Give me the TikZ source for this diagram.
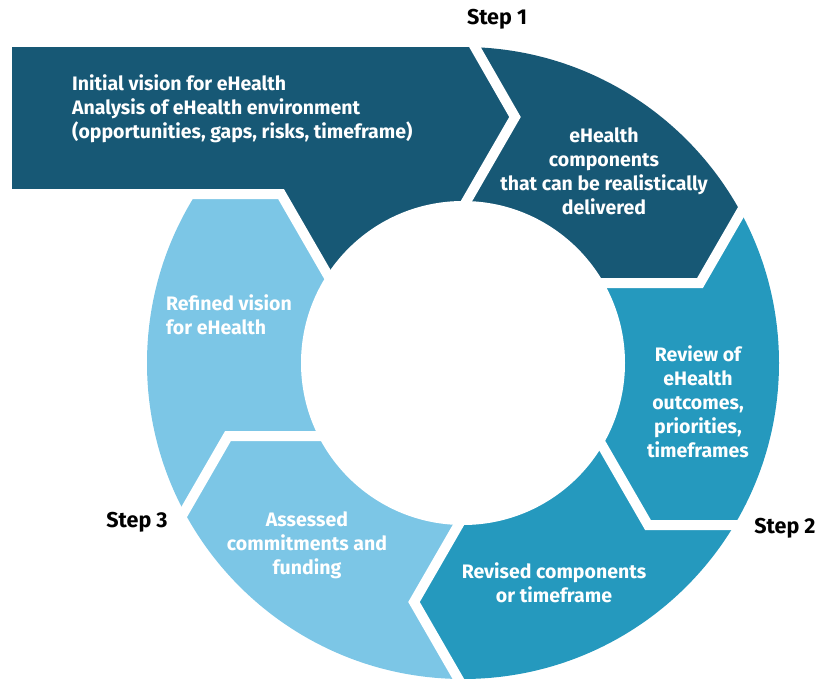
\documentclass[tikz,border=0pt]{standalone}
\usepackage{fontspec}
\setmainfont{Fira Sans}
\definecolor{dk}{HTML}{175875}
\definecolor{md}{HTML}{2599BE}
\definecolor{lt}{HTML}{7CC6E6}
\begin{document}
\begin{tikzpicture}[x=1pt,y=-1pt,
  gap/.style={draw=white,line width=10pt,line join=miter},
  lbl/.style={text=white,font=\bfseries\fontsize{19.5}{24}\selectfont,inner sep=0pt,align=center},
  steplbl/.style={text=black,font=\bfseries\fontsize{21.5}{24}\selectfont,inner sep=0pt}]
\useasboundingbox (0,0) rectangle (815,680);
\coordinate (C) at (463,363);
% ring sectors
\begin{scope}
  \clip (C) circle (316);
  \fill[dk] (C) -- (341,298) -- (281,194) -- (-50,194) -- (-50,-50) -- (900,-50) -- (900,179) -- (760,179) -- (700,283) -- (560,283) -- cycle;
  \fill[md] (C) -- (560,283) -- (700,283) -- (760,179) -- (900,179) -- (900,720) -- (482,720) -- (414,602) -- (474,498) -- cycle;
  \fill[lt] (C) -- (474,498) -- (414,602) -- (482,720) -- (-50,720) -- (-50,194) -- (281,194) -- (341,298) -- cycle;
\end{scope}
% banner part of the first step
\fill[dk] (12,47) -- (474.6,47) -- (515,117) -- (470.6,194) -- (12,194) -- cycle;
% hole
\fill[white] (C) circle (162);
% gaps
\draw[gap] (459.4,20) -- (515,117) -- (432.5,260);
\draw[gap] (760,179) -- (700,283) -- (560,283);
\draw[gap] (588,421) -- (648,525) -- (800,525);
\draw[gap] (474,498) -- (414,602) -- (482,720);
\draw[gap] (340,436) -- (228,436) -- (168,540);
\draw[gap] (341,298) -- (281,194) -- (0,194);
% labels
\node[lbl,align=left,anchor=west] (init) at (72,109) {Initial vision for eHealth\\Analysis of eHealth environment\\(opportunities, gaps, risks, timeframe)};
\node[lbl] (comp) at (604,171) {eHealth\\components\\that can be realistically\\delivered};
\node[lbl,align=left,anchor=west] (refined) at (166,315) {Refined vision\\for eHealth};
\node[lbl] (review) at (698,402) {Review of\\eHealth\\outcomes,\\priorities,\\timeframes};
\node[lbl] (revised) at (554,583) {Revised components\\or timeframe};
\node[lbl] (assessed) at (307,545) {Assessed\\commitments and\\funding};
\node[steplbl] (s1) at (497,19) {Step 1};
\node[steplbl] (s2) at (785,528) {Step 2};
\node[steplbl] (s3) at (137,522) {Step 3};
\end{tikzpicture}
\end{document}
